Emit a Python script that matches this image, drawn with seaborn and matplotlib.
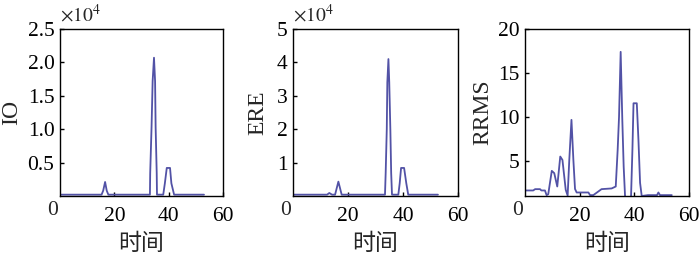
import matplotlib
matplotlib.use("Agg")
import matplotlib.pyplot as plt
import pandas as pd
import seaborn as sns

# time axis values and series (IO/ERE in raw units, shown as x10^4)
io_t = [0.5, 15.3, 15.9, 16.6, 17.2, 17.8, 33.1, 33.2, 33.7, 34.1, 34.6, 35.0, 35.2, 35.6, 35.7,
        38.0, 38.6, 39.3, 40.5, 41.0, 42.0, 53.0]
io_v = [200, 200, 800, 2100, 800, 200, 200, 3400, 10300, 17200, 20700, 17200, 10300, 3400, 200,
        200, 1900, 4200, 4200, 1900, 200, 200]

ere_t = [0.0, 12.4, 13.2, 14.2, 15.3, 16.5, 17.7, 33.45, 33.7, 34.1, 34.3, 34.7, 35.0, 35.4, 35.7, 36.0,
         38.3, 38.8, 39.3, 40.4, 41.2, 41.9, 52.7]
ere_v = [400, 400, 900, 400, 400, 4300, 400, 400, 6900, 20000, 34000, 41000, 34000, 20000, 6900, 400,
         400, 3800, 8400, 8400, 3800, 400, 400]

rrms_t = [0.0, 3.0, 3.7, 5.5, 6.0, 7.3, 7.9, 8.5, 9.8, 10.7, 11.8, 12.9, 13.7, 14.9, 15.6, 16.2, 17.0,
          17.7, 18.3, 18.9, 23.2, 23.8, 25.0, 28.0, 31.7, 33.2, 33.9, 34.4, 35.0, 35.6, 36.1, 36.6, 37.2,
          38.4, 38.8, 39.3, 39.7, 40.9, 41.5, 42.1, 42.7, 45.0, 48.3, 48.8, 49.4, 53.7]
rrms_v = [1.63, 1.63, 1.78, 1.78, 1.63, 1.63, 1.1, 1.2, 3.86, 3.6, 2.08, 5.49, 5.1, 1.7, 1.05, 5.1, 9.66,
          5.1, 1.8, 1.4, 1.4, 1.1, 1.1, 1.78, 1.86, 2.08, 6.25, 10.0, 17.4, 9.66, 4.35, 1.0, 0.5,
          0.5, 1.0, 6.25, 11.55, 11.55, 7.4, 2.5, 1.0, 1.1, 1.1, 1.4, 1.1, 1.1]

panels = [
    ("IO", io_t, io_v, 1e4, (0, 2.5), [0.5, 1.0, 1.5, 2.0, 2.5], ["0.5", "1.0", "1.5", "2.0", "2.5"], True),
    ("ERE", ere_t, ere_v, 1e4, (0, 5), [1, 2, 3, 4, 5], ["1", "2", "3", "4", "5"], True),
    ("RRMS", rrms_t, rrms_v, 1, (1.0, 20), [5, 10, 15, 20], ["5", "10", "15", "20"], False),
]
x_ticks = [20, 40, 60]

sns.set_theme(style="ticks")
plt.rcParams["font.family"] = ["Liberation Serif", "Noto Sans CJK SC"]
plt.rcParams["mathtext.fontset"] = "stix"

fig = plt.figure(figsize=(7.0, 2.61), dpi=100)
lefts = [60 / 700, 293 / 700, 525 / 700]
widths = [163 / 700, 165 / 700, 164 / 700]
ylabel_x = [-0.294, -0.212, -0.256]
line_color = "#5252a6"

for (name, t, v, scale, ylim, yt, ytl, offset), left, w, lx in zip(panels, lefts, widths, ylabel_x):
    ax = fig.add_axes([left, 1 - 196 / 261, w, 167 / 261])
    df = pd.DataFrame({"t": t, "v": [val / scale for val in v]})
    sns.lineplot(data=df, x="t", y="v", ax=ax, color=line_color, linewidth=1.3, sort=False)
    ax.set_xlim(0, 60)
    ax.set_ylim(*ylim)
    ax.set_xticks(x_ticks)
    ax.set_xticklabels([str(x) for x in x_ticks])
    ax.set_yticks(yt)
    ax.set_yticklabels(ytl)
    ax.tick_params(direction="in", length=3, width=1, labelsize=15.5, colors="black", pad=4)
    ax.tick_params(axis="x", pad=8)
    for sp in ax.spines.values():
        sp.set_visible(True)
        sp.set_linewidth(1.0)
        sp.set_color("black")
    ax.set_ylabel(name, fontsize=17, rotation=90, va="center", ha="center")
    ax.yaxis.set_label_coords(lx, 0.5)
    ax.set_xlabel("时间", fontsize=16.5, va="center", ha="center")
    ax.xaxis.set_label_coords(0.5, -0.29)
    ax.text(-0.045, -0.085, "0", transform=ax.transAxes, ha="center", va="center", fontsize=15.5)
    if offset:
        ax.text(0.0, 1.02, r"$\times 10^4$", transform=ax.transAxes, ha="left", va="bottom", fontsize=14)

fig.savefig("out.png", dpi=100)
